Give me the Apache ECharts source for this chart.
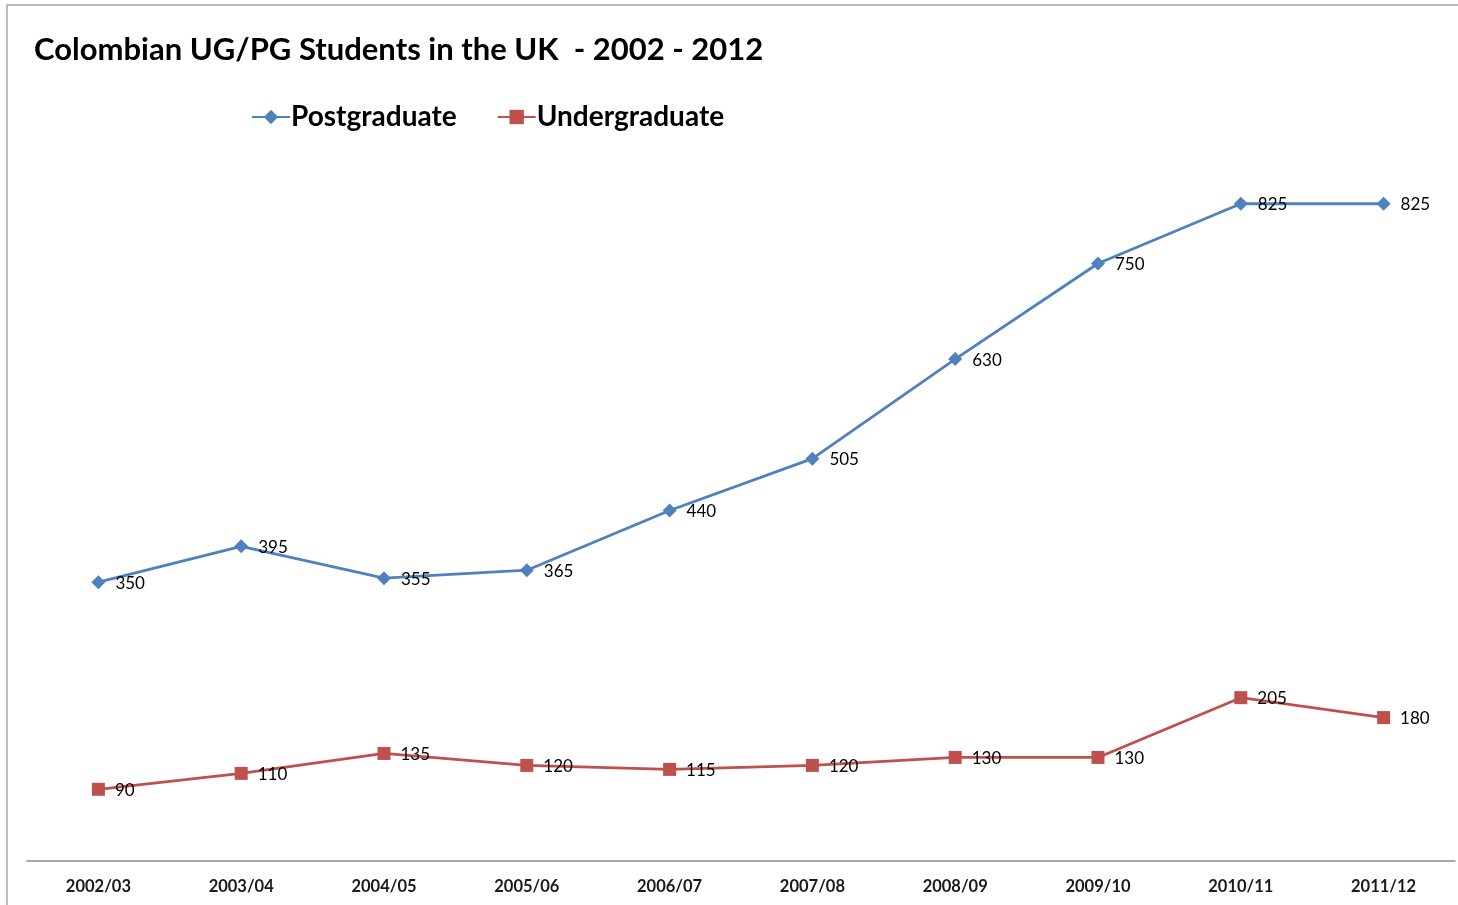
<!DOCTYPE html>
<html>
<head>
<meta charset="utf-8">
<script src="https://cdn.jsdelivr.net/npm/echarts@6/dist/echarts.min.js"></script>
<style>html,body{margin:0;padding:0;background:#fff;}#c{width:1458px;height:905px;}</style>
</head>
<body>
<div id="c"></div>
<script>
const categories = ['2002/03','2003/04','2004/05','2005/06','2006/07','2007/08','2008/09','2009/10','2010/11','2011/12'];
const postgraduate = [350,395,355,365,440,505,630,750,825,825];
const undergraduate = [90,110,135,120,115,120,130,130,205,180];

const chart = echarts.init(document.getElementById('c'));
const labelStyle = {show:true, position:'right', distance:10, offset:[0,1], color:'#000', fontSize:17, fontFamily:'Lato'};
chart.setOption({
  animation:false,
  graphic:[{type:'rect', shape:{x:7,y:5,width:1480,height:1000}, style:{fill:'none', stroke:'#a6a6a6', lineWidth:1.5}}],
  title:{text:'Colombian UG/PG Students in the UK  - 2002 - 2012', left:29, top:29,
    textStyle:{fontFamily:'Lato', fontWeight:'bold', fontSize:31, color:'#000'}},
  legend:{left:246, top:98, itemGap:40, itemWidth:38, itemHeight:18,
    textStyle:{fontFamily:'Lato', fontWeight:'bold', fontSize:28, color:'#000', padding:[0,0,0,-4]}},
  grid:{left:27, right:3, top:144, bottom:44},
  xAxis:{type:'category', data:categories, boundaryGap:true,
    axisLine:{lineStyle:{color:'#8c8c8c', width:1.5}}, axisTick:{show:false},
    axisLabel:{fontFamily:'Lato', fontWeight:'bold', fontSize:16.5, color:'#1a1a1a', margin:17}},
  yAxis:{type:'value', min:0, max:900, show:false, splitLine:{show:false}},
  series:[
    {name:'Postgraduate', type:'line', data:postgraduate, symbol:'diamond', symbolSize:14,
     itemStyle:{color:'#4F81BD'}, lineStyle:{color:'#4F81BD', width:2.8}, label:labelStyle},
    {name:'Undergraduate', type:'line', data:undergraduate, symbol:'rect', symbolSize:13,
     itemStyle:{color:'#C0504D'}, lineStyle:{color:'#C0504D', width:2.8}, label:labelStyle}
  ]
});
</script>
</body>
</html>
